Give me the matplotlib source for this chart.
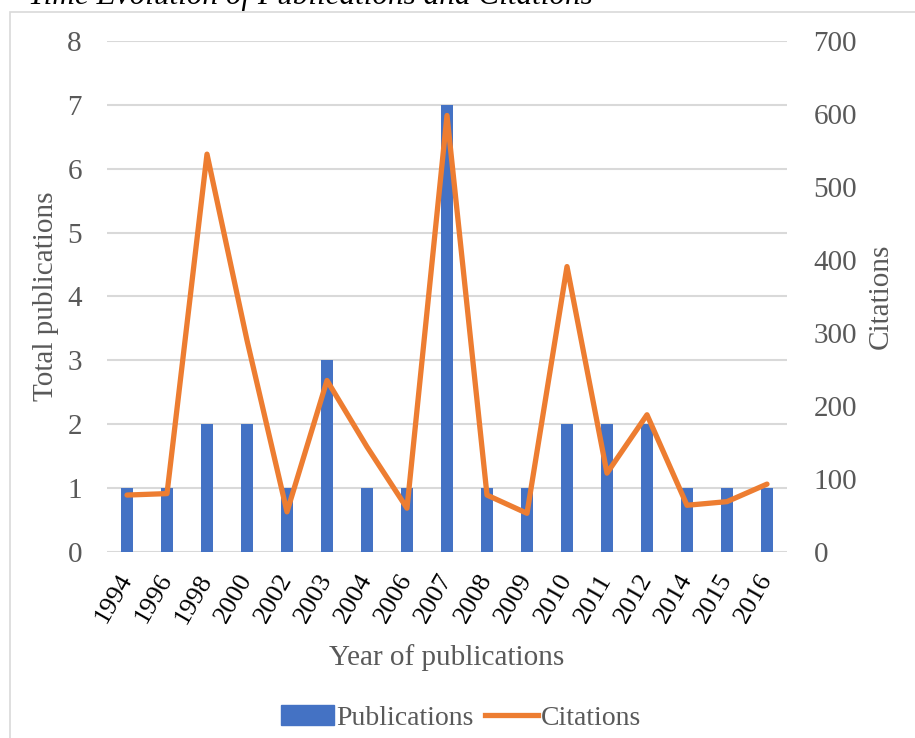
import matplotlib.pyplot as plt
from matplotlib.patches import Rectangle
from matplotlib.lines import Line2D

years = ["1994", "1996", "1998", "2000", "2002", "2003", "2004", "2006", "2007",
         "2008", "2009", "2010", "2011", "2012", "2014", "2015", "2016"]
publications = [1, 1, 2, 2, 1, 3, 1, 1, 7, 1, 1, 2, 2, 2, 1, 1, 1]
citations = [78, 80, 545, 290, 55, 235, 144, 60, 598, 78, 53, 391, 108, 188, 64, 69, 93]

BLUE = "#4472C4"
ORANGE = "#ED7D31"
GRAY = "#595959"
FS = 21

plt.rcParams["font.family"] = ["Liberation Serif", "DejaVu Serif"]

fig = plt.figure(figsize=(9.15, 7.38), dpi=100)

# chart frame (partly outside the image)
fig.patches.append(Rectangle((10 / 915, -0.1), 1.0, 1 - 12 / 738 + 0.1,
                             transform=fig.transFigure, fill=False,
                             edgecolor="#d9d9d9", linewidth=1.2))
fig.text(28 / 915, 1 - 4 / 738, "Time Evolution of Publications and Citations",
         fontsize=22.5, style="italic", color="black", va="baseline", ha="left")

ax = fig.add_axes([107 / 915, 1 - 552 / 738, 680 / 915, 511 / 738])
x = list(range(len(years)))
ax.bar(x, publications, width=0.3, color=BLUE, zorder=2)
ax.set_xlim(-0.5, len(years) - 0.5)
ax.set_ylim(0, 8)
ax.set_yticks(range(0, 9))
ax.grid(axis="y", color="#d9d9d9", linewidth=1.5, zorder=0)
ax.set_axisbelow(True)
for s in ax.spines.values():
    s.set_visible(False)
ax.tick_params(axis="both", length=0, labelsize=FS, labelcolor=GRAY)
ax.tick_params(axis="y", pad=18)
ax.set_xticks(x)
ax.set_xticklabels(years, rotation=60, ha="right", va="center",
                   rotation_mode="anchor", fontsize=19, color="black")
ax.tick_params(axis="x", pad=17)
ax.set_ylabel("Total publications", fontsize=FS, color=GRAY, labelpad=6)
ax.set_xlabel("Year of publications", fontsize=FS, color=GRAY, labelpad=12)

ax2 = ax.twinx()
ax2.plot(x, citations, color=ORANGE, linewidth=3.8, solid_joinstyle="round",
         solid_capstyle="round", zorder=3)
ax2.set_ylim(0, 700)
ax2.set_yticks(range(0, 701, 100))
for s in ax2.spines.values():
    s.set_visible(False)
ax2.tick_params(axis="y", length=0, labelsize=FS, labelcolor=GRAY, pad=19)
ax2.set_ylabel("Citations", fontsize=FS, color=GRAY, rotation=90, labelpad=8)

handles = [Rectangle((0, 0), 1, 1, color=BLUE),
           Line2D([0], [0], color=ORANGE, linewidth=3.8)]
fig.legend(handles, ["Publications", "Citations"], loc="center",
           bbox_to_anchor=(461 / 915, 1 - 718 / 738), ncol=2, frameon=False,
           fontsize=20, labelcolor=GRAY, handlelength=1.9, handletextpad=0.1,
           columnspacing=0.4)

fig.savefig("out.png", dpi=100)
